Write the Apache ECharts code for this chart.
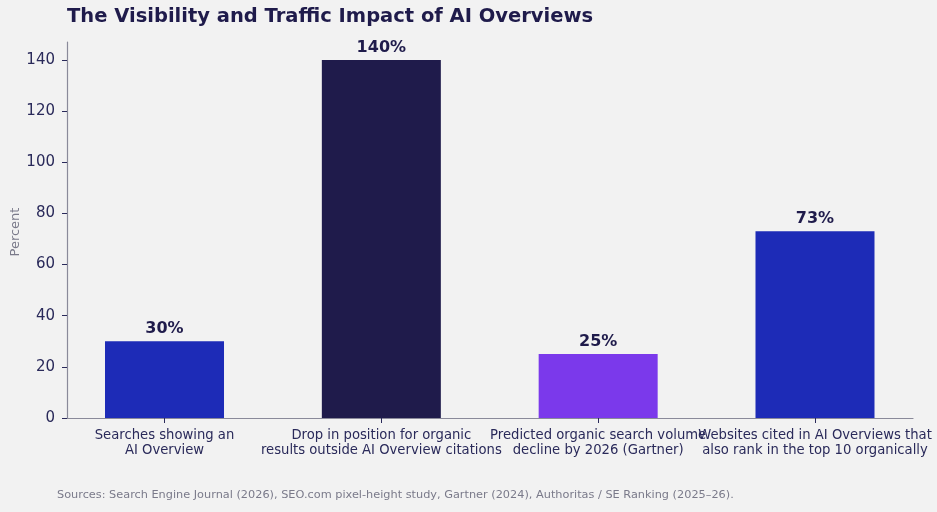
<!DOCTYPE html>
<html>
<head>
<meta charset="utf-8">
<script src="https://cdn.jsdelivr.net/npm/echarts@6/dist/echarts.min.js"></script>
<style>
html,body{margin:0;padding:0;background:#f2f2f2;}
#chart{width:937px;height:512px;}
</style>
</head>
<body>
<div id="chart"></div>
<script>
var categories = [
	'Searches showing an\nAI Overview',
	'Drop in position for organic\nresults outside AI Overview citations',
	'Predicted organic search volume\ndecline by 2026 (Gartner)',
	'Websites cited in AI Overviews that\nalso rank in the top 10 organically'
];
var values = [30, 140, 25, 73];
var barColors = ['#1d2bb7', '#1f1b4b', '#7b39eb', '#1d2bb7'];
var yTicks = [0, 20, 40, 60, 80, 100, 120, 140];

var myChart = echarts.init(document.getElementById('chart'));

var font = 'DejaVu Sans';
var seriesData = [];
for (var i = 0; i < values.length; i++) {
	seriesData.push({value: [i, values[i]], itemStyle: {color: barColors[i]}});
}

// labels overlap slightly in the original, so split them over two axes
function catAxis(idx, showLine) {
	return {
		type: 'value',
		min: -0.4497,
		max: 3.452,
		position: 'bottom',
		splitLine: {show: false},
		axisLine: {show: showLine, onZero: false, lineStyle: {color: '#8a8a9a', width: 1.2}},
		axisTick: {show: showLine, customValues: [0, 1, 2, 3], length: 5, lineStyle: {color: '#2a2a5a'}},
		axisLabel: {
			customValues: idx,
			hideOverlap: false,
			formatter: function (v) { return categories[Math.round(v)]; },
			fontFamily: font,
			fontSize: 13.2,
			lineHeight: 15,
			color: '#2a2a5a',
			margin: 10
		}
	};
}

var option = {
	backgroundColor: '#f2f2f2',
	animation: false,
	title: {
		text: 'The Visibility and Traffic Impact of AI Overviews',
		left: 62,
		top: 2,
		textStyle: {fontFamily: font, fontSize: 19.5, fontWeight: 'bold', color: '#1f1b4b'}
	},
	graphic: [{
		type: 'text',
		left: 57,
		top: 490,
		style: {
			text: 'Sources: Search Engine Journal (2026), SEO.com pixel-height study, Gartner (2024), Authoritas / SE Ranking (2025–26).',
			font: '11.3px "DejaVu Sans"',
			fill: '#7a7a8a'
		}
	}, {
		type: 'text',
		x: 16,
		y: 232,
		rotation: Math.PI / 2,
		style: {
			text: 'Percent',
			font: '13px "DejaVu Sans"',
			fill: '#7a7a8a',
			align: 'center',
			verticalAlign: 'middle'
		}
	}],
	grid: {left: 67, right: 24, top: 42, bottom: 94, outerBoundsMode: 'none', containLabel: false},
	xAxis: [catAxis([0, 1, 3], true), catAxis([2], false)],
	yAxis: {
		type: 'value',
		min: 0,
		max: 147,
		splitLine: {show: false},
		axisLine: {show: true, onZero: false, lineStyle: {color: '#8a8a9a', width: 1.2}},
		axisTick: {show: true, customValues: yTicks, length: 5, lineStyle: {color: '#2a2a5a'}},
		axisLabel: {
			customValues: yTicks,
			fontFamily: font,
			fontSize: 15,
			color: '#2a2a5a',
			margin: 12
		}
	},
	series: [{
		type: 'bar',
		xAxisIndex: 0,
		barWidth: 119,
		data: seriesData,
		label: {
			show: true,
			position: 'top',
			distance: 4,
			formatter: function (p) { return p.value[1] + '%'; },
			fontFamily: font,
			fontSize: 16,
			fontWeight: 'bold',
			color: '#1f1b4b'
		}
	}]
};
myChart.setOption(option);
</script>
</body>
</html>
